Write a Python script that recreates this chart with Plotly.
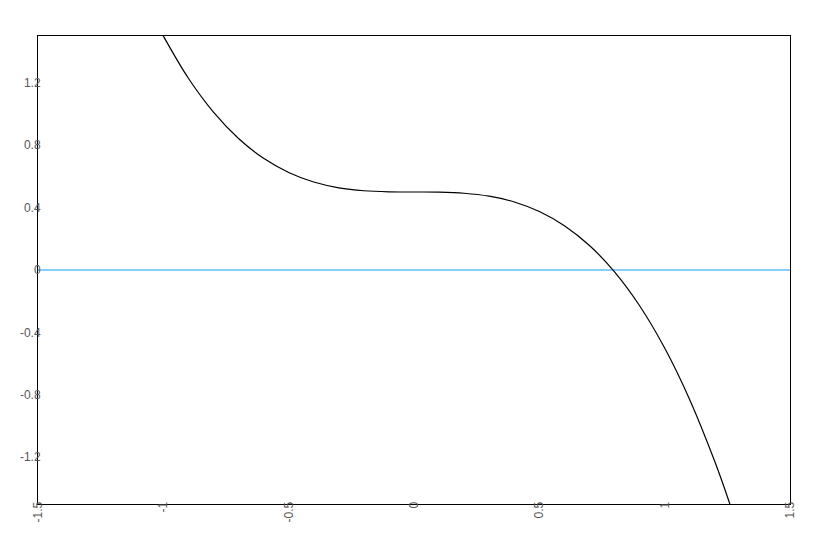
import plotly.graph_objects as go

# curve values
curve_x = [-1.02, -1.0, -0.9, -0.8, -0.7, -0.6, -0.5, -0.4, -0.3, -0.2, -0.1, 0.0,
           0.1, 0.2, 0.3, 0.4, 0.5, 0.6, 0.7, 0.8, 0.9, 1.0, 1.1, 1.2, 1.26, 1.27]
curve_y = [1.56, 1.5, 1.229, 1.012, 0.843, 0.716, 0.625, 0.564, 0.527, 0.508, 0.501, 0.5,
           0.499, 0.492, 0.473, 0.436, 0.375, 0.284, 0.157, -0.012, -0.229, -0.5, -0.831,
           -1.228, -1.5, -1.55]

x_tick_vals = [-1.5, -1, -0.5, 0, 0.5, 1, 1.5]
x_tick_text = ["-1.5", "-1", "-0.5", "0", "0.5", "1", "1.5"]
y_tick_vals = [-1.2, -0.8, -0.4, 0, 0.4, 0.8, 1.2]
y_tick_text = ["-1.2", "-0.8", "-0.4", "0", "0.4", "0.8", "1.2"]

fig = go.Figure()
fig.add_trace(go.Scatter(x=curve_x, y=curve_y, mode="lines",
                         line=dict(color="black", width=1.2, shape="spline"),
                         hoverinfo="skip", showlegend=False))

fig.update_layout(
    width=818, height=534,
    margin=dict(l=27, r=36, t=28, b=38),
    paper_bgcolor="white", plot_bgcolor="white",
    font=dict(family="Liberation Sans, Arial, sans-serif", size=12, color="#555555"),
    showlegend=False,
)
fig.update_xaxes(range=[-1.5, 1.5], tickvals=x_tick_vals, ticktext=x_tick_text,
                 tickangle=-90, showgrid=False, zeroline=False, showline=True,
                 linecolor="black", linewidth=1, mirror=True, ticks="",
                 ticklabelstandoff=-8)
fig.update_yaxes(range=[-1.5, 1.5], tickvals=y_tick_vals, ticktext=y_tick_text,
                 showgrid=False, zeroline=True, zerolinecolor="#87CEFA", zerolinewidth=1.5,
                 showline=True, linecolor="black", linewidth=1, mirror=True, ticks="",
                 ticklabelstandoff=-6)

fig.write_html("out.html")
